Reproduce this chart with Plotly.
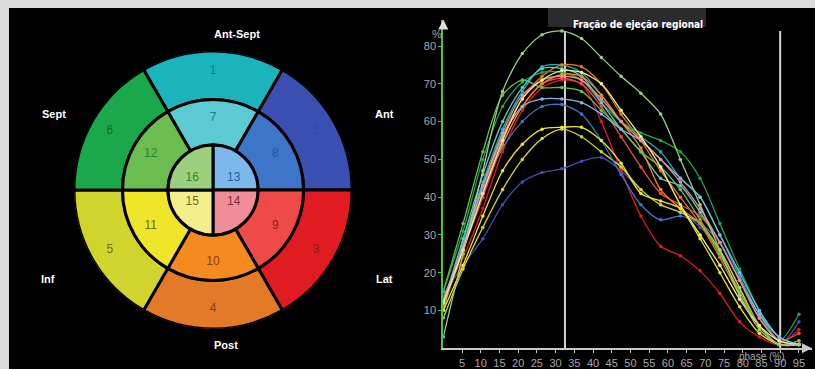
import plotly.graph_objects as go

W, H = 815, 369

# ---------------- Bullseye data ----------------
seg_ids = [str(i) for i in range(1, 17)]
seg_theta = [90, 30, 330, 270, 210, 150,
             90, 30, 330, 270, 210, 150,
             45, 315, 225, 135]
seg_width = [60] * 12 + [90] * 4
seg_ring = ["outer"] * 6 + ["middle"] * 6 + ["inner"] * 4
seg_colors = ["#1bb4bc", "#3b4fb0", "#e01b22", "#e27a28", "#d0d42c", "#1ba84b",
              "#5ccad3", "#3f75c9", "#ee4b48", "#f58a1f", "#efe52b", "#6cbd4f",
              "#7cb9ea", "#ef8d98", "#f3ee8a", "#9dd07e"]
seg_text_colors = ["#17797e", "#3346a0", "#8a1a1a", "#8a3e12", "#6e6e18", "#156b30",
                   "#237f88", "#2a52a0", "#8a2020", "#8a3a10", "#6b6a20", "#1f8a3a",
                   "#2a5aa8", "#7a2f3f", "#6a6a2a", "#2a8a3a"]
label_theta = [90, 30, 330, 270, 210, 150,
               90, 30, 330, 270, 210, 150,
               30, 330, 210, 150]
wall_labels = ["Ant-Sept", "Ant", "Lat", "Post", "Inf", "Sept"]

# ---------------- Curve data ----------------
phase = [round(k * 95 / 18, 2) for k in range(19)]
x_ticks = list(range(5, 100, 5))
y_ticks = list(range(10, 90, 10))
x_max, y_max = 98.5, 87
marker_lines = [32.5, 90]

fe = {
    "1":  [10, 28, 44, 58, 68, 74.5, 75, 73, 67, 60, 56, 52, 45, 40, 30, 19, 9, 2, 1],
    "2":  [14, 22, 29, 38, 44, 46.5, 47.5, 49.5, 50.5, 47, 42, 38, 36, 32, 26, 16, 6, 1, 7],
    "3":  [14, 24, 37, 52, 63, 69, 71, 70, 60, 47, 35, 27, 24.5, 20.5, 14.5, 7, 3, 1, 5],
    "4":  [12, 27, 42, 56, 66, 72, 75, 74.5, 70, 62, 55, 47, 40, 33, 24, 14, 6, 1, 2],
    "5":  [8, 21, 32, 42, 50, 55.5, 58, 56, 52, 48, 42, 38, 36, 33, 26, 16, 6, 1, 1],
    "6":  [15, 31, 50, 64, 70.5, 73, 73, 71, 65, 60, 57, 55, 52, 45, 33, 21, 10, 2, 9],
    "7":  [12, 29, 46, 60, 69, 74, 74, 72, 65, 58, 52, 45, 43, 36, 28, 18, 9, 3, 1],
    "8":  [12, 26, 42, 53, 60, 64, 64.5, 62, 55, 46, 38, 34, 35, 33, 28, 18, 8, 2, 1],
    "9":  [13, 26, 40, 54, 64, 70, 71.5, 70, 64, 56, 48, 41, 38, 35, 28, 18, 8, 2, 4],
    "10": [11, 26, 41, 54, 64, 70, 72.5, 72, 67, 60, 53, 42, 37, 33, 25, 15, 6, 1, 1],
    "11": [10, 22, 35, 47, 54, 58, 58.5, 58.5, 55, 49, 41, 39, 37, 29, 20, 11, 4, 1, 1],
    "12": [15, 33, 52, 67, 71, 69, 69, 68, 63, 58, 52, 48, 42, 34, 25, 15, 6, 1, 2],
    "13": [13, 27, 43, 56, 64, 66, 66, 65, 62, 58, 55, 50, 45, 40, 30, 20, 10, 3, 1],
    "14": [12, 27, 43, 57, 67, 71, 72, 71, 66, 60, 55, 50, 44, 37, 28, 18, 8, 2, 1],
    "15": [12, 26, 41, 55, 66, 71, 73.5, 73, 70, 63, 56, 48, 38, 30, 22, 13, 6, 2, 1],
    "16": [3, 25, 47, 68, 78, 83, 84, 82, 77, 72, 67.5, 62, 50, 38, 26, 14, 5, 1, 1],
}

# ---------------- geometry helpers ----------------
def xp(px):
    return px / W

def yp(py):
    return 1 - py / H

CX, CY = 213, 190
R_OUT, R_MID, R_IN = 139, 90.5, 45
ring_base = {"outer": R_MID, "middle": R_IN, "inner": 0}
ring_top = {"outer": R_OUT, "middle": R_MID, "inner": R_IN}
ring_label_r = {"outer": 119, "middle": 72, "inner": 24}

fig = go.Figure()

# Bullseye
fig.add_trace(go.Barpolar(
    r=[ring_top[g] - ring_base[g] for g in seg_ring],
    base=[ring_base[g] for g in seg_ring],
    theta=seg_theta,
    width=seg_width,
    marker=dict(color=seg_colors, line=dict(color="black", width=3)),
    hoverinfo="skip", showlegend=False,
))
fig.add_trace(go.Scatterpolar(
    r=[ring_label_r[g] for g in seg_ring],
    theta=label_theta,
    mode="text",
    text=seg_ids,
    textfont=dict(color=seg_text_colors, size=12, family="Arial, Liberation Sans, sans-serif"),
    hoverinfo="skip", showlegend=False,
))

# Curves
for sid, col in zip(seg_ids, seg_colors):
    fig.add_trace(go.Scatter(
        x=phase, y=fe[sid], mode="lines+markers",
        line=dict(color=col, width=1.3, shape="spline", smoothing=0.8),
        marker=dict(color=col, size=3.5),
        hoverinfo="skip", showlegend=False,
    ))

shapes = [
    dict(type="rect", xref="paper", yref="paper", x0=xp(9), x1=1, y0=0, y1=yp(8),
         fillcolor="black", line=dict(width=0), layer="below"),
    dict(type="rect", xref="paper", yref="paper", x0=xp(548), x1=xp(706), y0=yp(27), y1=yp(8),
         fillcolor="#2b2b2b", line=dict(width=0), layer="below"),
]
for xv in marker_lines:
    shapes.append(dict(type="line", xref="x", yref="y", x0=xv, x1=xv, y0=0, y1=84,
                       line=dict(color="#d4d4d4", width=2), layer="below"))

bold = "Arial, Liberation Sans, sans-serif"
annotations = []
wall_pos = [(212, 26), (384, 106), (384, 287), (212, 353), (39, 287), (40, 106)]
for lab, (px, py) in zip(wall_labels, wall_pos):
    annotations.append(dict(x=xp(px), y=yp(py), xref="paper", yref="paper", text=f"<b>{lab}</b>",
                            showarrow=False, font=dict(color="white", size=11, family=bold)))
annotations.append(dict(x=xp(705), y=yp(17.5), xref="paper", yref="paper", xanchor="right",
                        text="<b>Fração de ejeção regional</b>", showarrow=False,
                        font=dict(color="white", size=10,
                                  family="Liberation Sans Narrow, DejaVu Sans Condensed, Arial Narrow, sans-serif")))
annotations.append(dict(x=xp(437), y=yp(26), xref="paper", yref="paper", text="%", showarrow=False,
                        font=dict(color="#a8a8a8", size=11, family=bold)))
annotations.append(dict(x=xp(787), y=yp(364), xref="paper", yref="paper",
                        text="phase (%)", showarrow=False,
                        font=dict(color="#a8a8a8", size=10, family=bold)))
# axis arrows
annotations.append(dict(x=x_max, y=0, xref="x", yref="y", ax=-8, ay=0, text="", showarrow=True,
                        arrowhead=2, arrowsize=1, arrowwidth=2, arrowcolor="#c8c8c8"))
annotations.append(dict(x=0, y=y_max, xref="x", yref="y", ax=0, ay=8, text="", showarrow=True,
                        arrowhead=2, arrowsize=1, arrowwidth=2, arrowcolor="#e0e0e0"))

fig.update_layout(
    width=W, height=H,
    margin=dict(l=0, r=0, t=0, b=0),
    paper_bgcolor="#dadbdd",
    plot_bgcolor="rgba(0,0,0,0)",
    font=dict(family="Arial, Liberation Sans, sans-serif", color="#a8a8a8", size=11),
    showlegend=False,
    polar=dict(
        domain=dict(x=[xp(CX - R_OUT), xp(CX + R_OUT)], y=[yp(CY + R_OUT), yp(CY - R_OUT)]),
        bgcolor="black",
        radialaxis=dict(visible=False, range=[0, R_OUT]),
        angularaxis=dict(visible=False, rotation=0, direction="counterclockwise"),
        bargap=0,
    ),
    xaxis=dict(domain=[xp(443.3), xp(812)], range=[0, x_max], tickvals=x_ticks,
               showgrid=False, zeroline=False, showline=True, linecolor="#c8c8c8", linewidth=2,
               ticks="outside", ticklen=3, tickcolor="#c8c8c8", tickfont=dict(color="#a8a8a8", size=11)),
    yaxis=dict(domain=[yp(348.3), yp(19.6)], range=[0, y_max], tickvals=y_ticks,
               showgrid=False, zeroline=False, showline=True, linecolor="#3ec94a", linewidth=2,
               ticks="outside", ticklen=3, tickcolor="#3ec94a", tickfont=dict(color="#a8a8a8", size=11)),
    shapes=shapes,
    annotations=annotations,
)

fig.write_html(
    "out.html",
    config={"displayModeBar": False},
    post_script="document.body.style.margin='0';document.body.style.overflow='hidden';",
)
